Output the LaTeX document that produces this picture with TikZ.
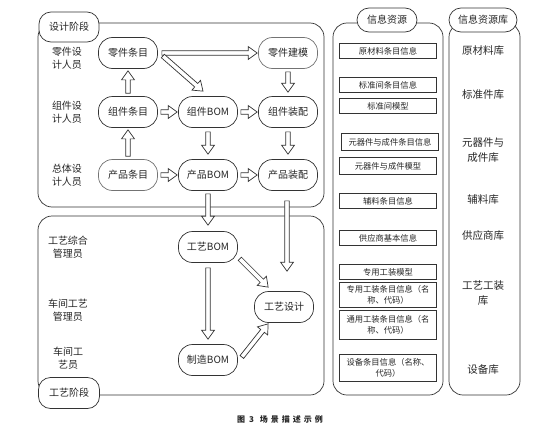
\documentclass[tikz,border=0pt]{standalone}
\usepackage{fontspec}
\setmainfont{Noto Sans CJK SC}
\usetikzlibrary{arrows.meta,calc}
\begin{document}
\begin{tikzpicture}[x=1pt,y=-1pt,
  lane/.style={draw=black!80, line width=0.7pt, rounded corners=14pt},
  tag/.style={draw=black!80, line width=0.7pt, fill=white, rounded corners=12pt, minimum height=#1, inner sep=1pt, text=black!85, font=\fontsize{10}{12}\selectfont},
  act/.style={draw=black!80, line width=0.7pt, fill=white, rounded corners=14pt, minimum height=31pt, minimum width=59pt, inner sep=1pt, text=black!85, font=\fontsize{10}{12}\selectfont},
  role/.style={align=center, text=black!85, font=\fontsize{10}{13.5}\selectfont},
  info/.style={draw=black!80, line width=0.6pt, minimum width=97pt, minimum height=15pt, inner sep=1pt, align=center, text=black!85, font=\fontsize{8.3}{10.5}\selectfont},
  lib/.style={align=center, text=black!85, font=\fontsize{10.5}{15}\selectfont},
  hollow/.style={draw=black!80, line width=0.7pt, fill=white, line join=miter,
    to path={let \p1=(\tikztostart), \p2=(\tikztotarget), \p3=($(\p2)!9pt!(\p1)$) in
      ($(\p1)!2.3pt!90:(\p2)$) -- ($(\p3)!2.3pt!90:(\p2)$) -- ($(\p3)!6.5pt!90:(\p2)$)
      -- (\p2) -- ($(\p3)!6.5pt!-90:(\p2)$) -- ($(\p3)!2.3pt!-90:(\p2)$)
      -- ($(\p1)!2.3pt!-90:(\p2)$) -- cycle}}
]
\useasboundingbox (0,0) rectangle (560,431);

% stage boxes
\draw[lane] (38,23) rectangle (324,207);
\draw[lane] (38,216) rectangle (324,395);
\draw[lane] (333,23) rectangle (443,395);
\draw[lane] (449,23) rectangle (520,395);

\node[tag=30pt, minimum width=60pt] (sj) at (69,27) {设计阶段};
\node[tag=31pt, minimum width=61pt] (gj) at (69,393) {工艺阶段};
\node[tag=24pt, minimum width=60pt] (xx) at (387,20) {信息资源};
\node[tag=24pt, minimum width=68pt] (xk) at (483,20) {信息资源库};

% roles
\node[role] (r1) at (67,58) {零件设\\计人员};
\node[role] (r2) at (67,112) {组件设\\计人员};
\node[role] (r3) at (67,175) {总体设\\计人员};
\node[role] (r4) at (68,247) {工艺综合\\管理员};
\node[role] (r5) at (68,310) {车间工艺\\管理员};
\node[role] (r6) at (68,358) {车间工\\艺员};

% activities
\node[act] (lj) at (128,53) {零件条目};
\node[act, draw=black!55] (lm) at (288,53) {零件建模};
\node[act] (zj) at (128,112) {组件条目};
\node[act] (zb) at (208,112) {组件BOM};
\node[act] (zz) at (288,112) {组件装配};
\node[act, draw=black!55] (cj) at (128,175) {产品条目};
\node[act] (cb) at (208,175) {产品BOM};
\node[act] (cz) at (288,175) {产品装配};
\node[act] (gb) at (208,247) {工艺BOM};
\node[act] (gs) at (284,307) {工艺设计};
\node[act] (mb) at (208,360) {制造BOM};

% connectors
\draw[hollow] ($(lj.east)+(4,0)$) to ($(lm.west)+(-1,0)$);
\draw[hollow] ($(lj.east)+(5,3)$) to ($(zb.north)+(-5,-5)$);
\draw[hollow] ($(zj.north)+(0,-3)$) to ($(lj.south)+(0,2)$);
\draw[hollow] ($(cj.north)+(0,-3)$) to ($(zj.south)+(0,2)$);
\draw[hollow] ($(zj.east)+(3,0)$) to ($(zb.west)+(-1,0)$);
\draw[hollow] ($(zb.east)+(3,0)$) to ($(zz.west)+(-1,0)$);
\draw[hollow] ($(lm.south)+(0,3)$) to ($(zz.north)+(0,-4)$);
\draw[hollow] ($(zb.south)+(0,4)$) to ($(cb.north)+(0,-5)$);
\draw[hollow] ($(zz.south)+(0,4)$) to ($(cz.north)+(0,-5)$);
\draw[hollow] ($(cj.east)+(3,0)$) to ($(cb.west)+(-1,0)$);
\draw[hollow] ($(cb.east)+(3,0)$) to ($(cz.west)+(-1,0)$);
\draw[hollow] ($(cb.south)+(0,3)$) to ($(gb.north)+(0,-6)$);
\draw[hollow] ($(cz.south)+(-1,10)$) to ($(cz.south |- gs.north)+(-1,-20)$);
\draw[hollow] ($(gb.south east)+(2,-4)$) to ($(gs.north west)+(14,-4)$);
\draw[hollow] ($(gb.south)+(0,5)$) to ($(mb.north)+(0,-5)$);
\draw[hollow] ($(mb.east)+(4,-3)$) to ($(gs.south west)+(14,1)$);

% information resources
\node[info] (i1) at (388,51) {原材料条目信息};
\node[info] (i2) at (388,85) {标准间条目信息};
\node[info] (i3) at (388,106) {标准间模型};
\node[info, minimum height=17pt] (i4) at (390,142) {元器件与成件条目信息};
\node[info, minimum height=17pt] (i5) at (388,166) {元器件与成件模型};
\node[info] (i6) at (388,201) {辅料条目信息};
\node[info] (i7) at (388,238) {供应商基本信息};
\node[info] (i8) at (388,272) {专用工装模型};
\node[info, minimum height=25pt] (i9) at (388,295) {专用工装条目信息（名\\称、代码）};
\node[info, minimum height=29pt] (i10) at (388,325) {通用工装条目信息（名\\称、代码）};
\node[info, minimum height=27pt] (i11) at (388,368) {设备条目信息（名称、\\代码）};

% libraries
\node[lib] (k1) at (483,51) {原材料库};
\node[lib] (k2) at (483,95) {标准件库};
\node[lib] (k3) at (483,150) {元器件与\\成件库};
\node[lib] (k4) at (483,200) {辅料库};
\node[lib] (k5) at (483,236) {供应商库};
\node[lib] (k6) at (483,293) {工艺工装\\库};
\node[lib] (k7) at (483,370) {设备库};

% caption
\node[font=\fontsize{8}{10}\selectfont\bfseries, text=black!85] (cap) at (280,419)
  {图\hspace{4pt}3\hspace{6pt}场\hspace{3pt}景\hspace{3pt}描\hspace{3pt}述\hspace{3pt}示\hspace{3pt}例};
\end{tikzpicture}
\end{document}
